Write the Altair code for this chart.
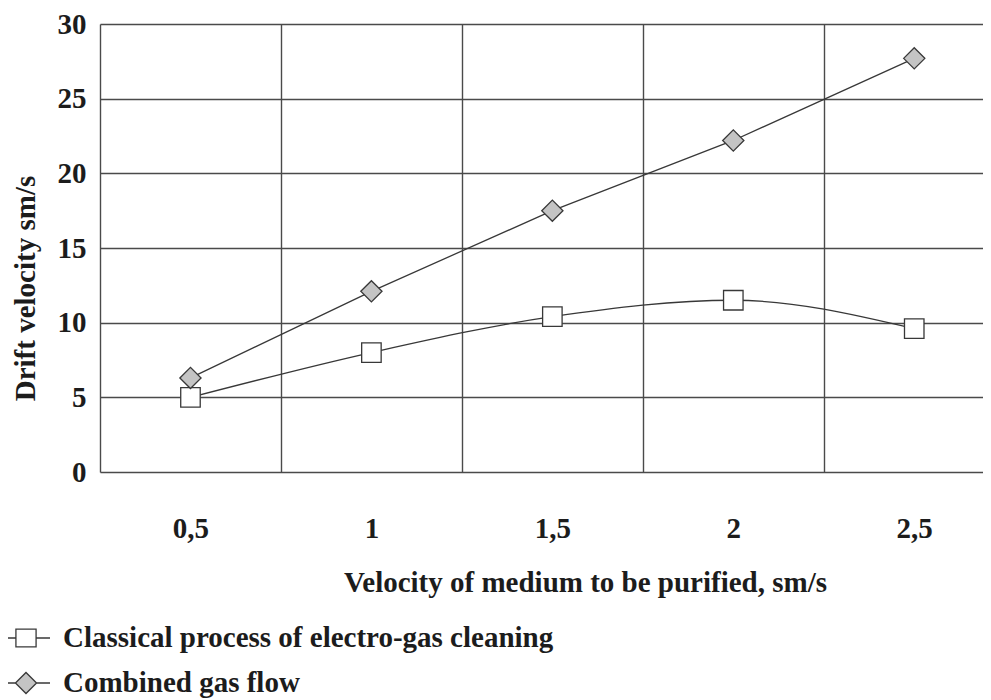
import altair as alt
import pandas as pd

# ---- data ----
velocity = [0.5, 1, 1.5, 2, 2.5]
classical = [5.0, 8.0, 10.4, 11.5, 9.6]
combined = [6.3, 12.1, 17.5, 22.2, 27.7]
series_names = ["Classical process of electro-gas cleaning", "Combined gas flow"]
y_ticks = [0, 5, 10, 15, 20, 25, 30]
x_ticks = [0.25, 0.5, 0.75, 1.0, 1.25, 1.5, 1.75, 2.0, 2.25, 2.5]

df = pd.DataFrame({
    "velocity": velocity * 2,
    "drift": classical + combined,
    "series": [series_names[0]] * len(velocity) + [series_names[1]] * len(velocity),
})

FONT = "Liberation Serif"
FS = 29
INK = "#1c1c1c"
LINE = "#383838"
GRID = "#4a4a4a"

SQ_PATH = "M-1,0H-0.42M0.42,0H1M-0.42,-0.37H0.42V0.37H-0.42Z"
DM_PATH = "M-1,0H-0.44M0.44,0H1M-0.44,0L0,-0.44L0.44,0L0,0.44Z"

x_enc = alt.X(
    "velocity:Q",
    scale=alt.Scale(domain=[0.25, 2.69], nice=False, zero=False),
    axis=alt.Axis(
        values=x_ticks,
        labelExpr="datum.value % 0.5 == 0 ? replace(toString(datum.value), '.', ',') : ''",
        labelFont=FONT, labelFontSize=FS, labelFontWeight="bold", labelColor=INK,
        labelPadding=56, labelBaseline="middle", labelFlush=False, labelOverlap=False,
        ticks=False, tickSize=0, domain=False,
        grid=True, gridColor=GRID, gridWidth=1.4,
        gridOpacity={"condition": {"test": "datum.value % 0.5 == 0", "value": 0}, "value": 1},
        title="Velocity of medium to be purified, sm/s",
        titleFont=FONT, titleFontSize=FS, titleFontWeight="bold", titleColor=INK,
        titleX=485, titleY=110, titleAlign="center", titleBaseline="middle",
    ),
)

y_enc = alt.Y(
    "drift:Q",
    scale=alt.Scale(domain=[0, 30], nice=False, zero=True),
    axis=alt.Axis(
        values=y_ticks,
        labelFont=FONT, labelFontSize=FS, labelFontWeight="bold", labelColor=INK,
        labelPadding=14, ticks=False, tickSize=0, domain=False,
        grid=True, gridColor=GRID, gridWidth=1.4,
        title="Drift velocity sm/s",
        titleFont=FONT, titleFontSize=FS, titleFontWeight="bold", titleColor=INK,
        titleAngle=270, titleX=-75, titleY=264, titleAlign="center", titleBaseline="middle",
    ),
)

base = alt.Chart(df).encode(x=x_enc, y=y_enc)


def legend(path, y):
    return alt.Legend(
        title=None, orient="none", legendX=-99, legendY=y,
        symbolType=path, symbolSize=2304, symbolStrokeColor=LINE, symbolStrokeWidth=1.3,
        labelFont=FONT, labelFontSize=FS, labelFontWeight="bold", labelColor=INK,
        labelLimit=900, labelOffset=12, padding=0,
    )


line_cl = base.transform_filter(alt.datum.series == series_names[0]).mark_line(
    interpolate="monotone", color=LINE, strokeWidth=1.3)
line_cb = base.transform_filter(alt.datum.series == series_names[1]).mark_line(
    color=LINE, strokeWidth=1.3)

pts_cl = base.transform_filter(alt.datum.series == series_names[0]).mark_point(
    shape="square", filled=True, size=380, stroke=LINE, strokeWidth=1.3, opacity=1
).encode(fill=alt.Fill("series:N", scale=alt.Scale(domain=[series_names[0]], range=["#ffffff"]),
                       legend=legend(SQ_PATH, 589)))

pts_cb = base.transform_filter(alt.datum.series == series_names[1]).mark_point(
    shape="diamond", filled=True, size=450, stroke=LINE, strokeWidth=1.3, opacity=1
).encode(fill=alt.Fill("series:N", scale=alt.Scale(domain=[series_names[1]], range=["#c4c4c4"]),
                       legend=legend(DM_PATH, 634)))

chart = alt.layer(line_cl, line_cb, pts_cl, pts_cb).resolve_scale(
    fill="independent"
).resolve_legend(fill="independent").properties(
    width=883, height=448,
    autosize=alt.AutoSizeParams(type="none"),
    padding={"left": 92, "top": 16, "right": 0, "bottom": 228},
    background="white",
).configure_view(stroke=None)

chart.save("out.html", embed_options={"renderer": "svg", "actions": False})
